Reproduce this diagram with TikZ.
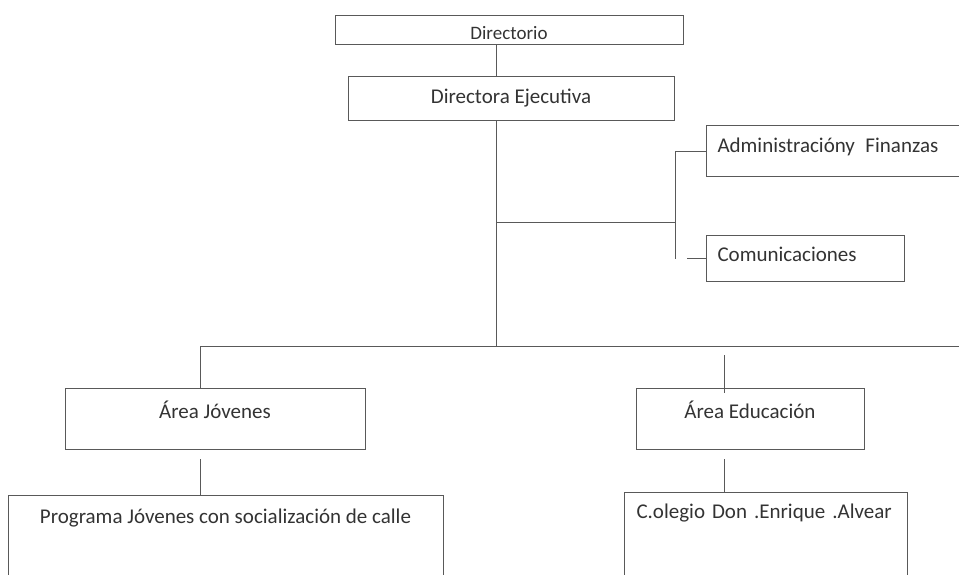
\documentclass[tikz,border=0pt]{standalone}
\usepackage{fontspec}
\setmainfont{Carlito}
\tikzset{
    caja/.style={draw=black!65, line width=1pt, inner sep=0pt, text=black!80,
        font=\fontsize{21}{24}\selectfont},
    linea/.style={draw=black!65, line width=1pt}
}
\begin{document}
\begin{tikzpicture}[x=1pt,y=-1pt]
            \useasboundingbox (0,0) rectangle (959,574);
            \node[caja, anchor=north, minimum width=348pt, text height=24.3pt, text depth=4.7pt,
                font=\fontsize{19}{22}\selectfont] (Dir) at (509,15) {Directorio};
            \node[caja, anchor=north, minimum width=326pt, text height=26.7pt, text depth=17.3pt] (DE) at (511,76) {Directora Ejecutiva};
            \node[caja, anchor=north west, text width=258pt, align=left, inner xsep=11pt,
                text height=26.7pt, text depth=24.3pt] (Adm) at (706,125) {Administracióny\hspace{0.5em}Finanzas};
            \node[caja, anchor=north west, text width=176pt, align=left, inner xsep=11pt,
                text height=26pt, text depth=20pt] (Com) at (706,235) {Comunicaciones};
            \node[caja, anchor=north, minimum width=300pt, text height=29.5pt, text depth=31.5pt] (AJ) at (215,388) {Área Jóvenes};
            \node[caja, anchor=north, minimum width=228pt, text height=29.5pt, text depth=31.5pt] (AE) at (750,388) {Área Educación};
            \node[caja, anchor=north, minimum width=435pt, text height=27.7pt, text depth=80pt] (PJ) at (225.5,495) {Programa Jóvenes con socialización de calle};
            \node[caja, anchor=north west, text width=259pt, align=left, inner xsep=12pt,
                text height=26.3pt, text depth=85pt] (Col) at (624,492) {C.olegio Don .Enrique .Alvear};

            \coordinate (tronco) at (496,346); \coordinate (nudo) at (496,222);
            \coordinate (rama) at (675,222);
            \coordinate (izq) at (200,346); \coordinate (fin) at (959,346);
            \coordinate (der) at (724,355);

            \draw[linea] (Dir.south -| tronco) to (DE.north -| tronco);
            \draw[linea] (DE.south -| tronco) to (tronco);
            \draw[linea] (nudo) to (rama);
            \draw[linea] (Adm.west) -| (rama |- Com.west);
            \draw[linea] (Com.west) to ++(-19,0);
            \draw[linea] (izq) to (fin);
            \draw[linea] (izq) to (izq |- AJ.north);
            \draw[linea] (der) to ([yshift=-5pt]der |- AE.north);
            \draw[linea] ([yshift=-9pt]AJ.south -| izq) to (PJ.north -| izq);
            \draw[linea] ([yshift=-9pt]AE.south -| der) to (Col.north -| der);
        \end{tikzpicture}
\end{document}
